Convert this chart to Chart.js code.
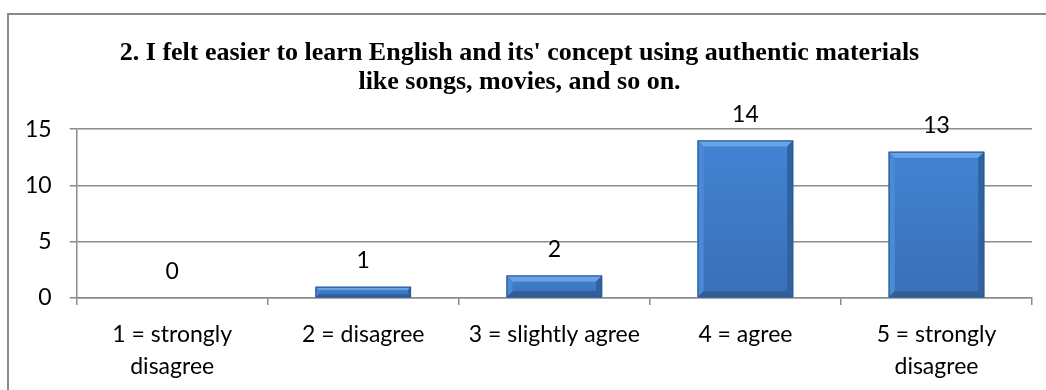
<!DOCTYPE html>
<html>
<head>
<meta charset="utf-8">
<script src="https://cdn.jsdelivr.net/npm/chart.js@4.4.1/dist/chart.umd.min.js"></script>
<style>
  html, body { margin: 0; padding: 0; background: #fff; }
  #wrap { position: relative; width: 1046px; height: 390px; overflow: hidden; }
  #frame { position: absolute; left: 7px; top: 13px; width: 1100px; height: 400px;
           border-top: 2px solid #8a8a8a; border-left: 2px solid #8a8a8a; }
  canvas { position: absolute; left: 0; top: 0; }
</style>
</head>
<body>
<div id="wrap">
  <div id="frame"></div>
  <canvas id="chart" width="1046" height="390"></canvas>
</div>
<script>
// ========= Data =========
const categories = [
  ["1 = strongly", "disagree"],
  "2 = disagree",
  "3 = slightly agree",
  "4 = agree",
  ["5 = strongly", "disagree"]
];
const responses = [0, 1, 2, 14, 13];
const yTicks = [0, 5, 10, 15];
const titleLines = [
  "2. I felt easier to learn English and its' concept using authentic materials",
  "like songs, movies, and so on."
];

const labelFont = "Lato, 'Open Sans', sans-serif";

// ========= Bevel look for bars =========
const bevelPlugin = {
  id: "bevel",
  afterDatasetsDraw(chart) {
    const ctx = chart.ctx;
    chart.getDatasetMeta(0).data.forEach(bar => {
      const { x, y, base, width } = bar.getProps(["x", "y", "base", "width"], true);
      const l = x - width / 2, r = x + width / 2, t = Math.min(y, base), b = Math.max(y, base);
      const h = b - t;
      if (h < 1) return;
      const bv = Math.min(6, h * 0.3);
      ctx.save();
      const g = ctx.createLinearGradient(0, t, 0, b);
      g.addColorStop(0, "#4283d3");
      g.addColorStop(1, "#3a70b6");
      ctx.fillStyle = g;
      ctx.fillRect(l, t, width, h);
      // top
      ctx.fillStyle = "#6aa3e6";
      ctx.beginPath(); ctx.moveTo(l, t); ctx.lineTo(r, t); ctx.lineTo(r - bv, t + bv); ctx.lineTo(l + bv, t + bv); ctx.closePath(); ctx.fill();
      // left
      ctx.fillStyle = "#4d8ad6";
      ctx.beginPath(); ctx.moveTo(l, t); ctx.lineTo(l + bv, t + bv); ctx.lineTo(l + bv, b - bv); ctx.lineTo(l, b); ctx.closePath(); ctx.fill();
      // right
      ctx.fillStyle = "#30629f";
      ctx.beginPath(); ctx.moveTo(r, t); ctx.lineTo(r - bv, t + bv); ctx.lineTo(r - bv, b - bv); ctx.lineTo(r, b); ctx.closePath(); ctx.fill();
      // bottom
      ctx.fillStyle = "#2f5e9a";
      ctx.beginPath(); ctx.moveTo(l, b); ctx.lineTo(r, b); ctx.lineTo(r - bv, b - bv); ctx.lineTo(l + bv, b - bv); ctx.closePath(); ctx.fill();
      ctx.strokeStyle = "#2d5a92";
      ctx.lineWidth = 1;
      ctx.strokeRect(l + 0.5, t + 0.5, width - 1, h - 1);
      ctx.restore();
    });
  }
};

// ========= Value labels =========
const valueLabels = {
  id: "valueLabels",
  afterDatasetsDraw(chart) {
    const ctx = chart.ctx;
    const ds = chart.data.datasets[0];
    ctx.save();
    ctx.font = "23px " + labelFont;
    ctx.fillStyle = "#000";
    ctx.textAlign = "center";
    ctx.textBaseline = "middle";
    chart.getDatasetMeta(0).data.forEach((bar, i) => {
      ctx.fillText(String(ds.data[i]), bar.x, bar.y - 26);
    });
    ctx.restore();
  }
};

new Chart(document.getElementById("chart"), {
  type: "bar",
  data: {
    labels: categories,
    datasets: [{
      data: responses,
      backgroundColor: "#3d79c4",
      borderWidth: 0,
      barPercentage: 0.5,
      categoryPercentage: 1
    }]
  },
  options: {
    responsive: false,
    animation: false,
    devicePixelRatio: 1,
    layout: { padding: { left: 7, right: 14, top: 0, bottom: -7 } },
    plugins: {
      legend: { display: false },
      tooltip: { enabled: false },
      title: {
        display: true,
        text: titleLines,
        color: "#000",
        font: { family: "'Liberation Serif', 'Times New Roman', serif", size: 26, weight: "bold", lineHeight: 1.12 },
        padding: { top: 39, bottom: 32 }
      }
    },
    scales: {
      y: {
        min: 0,
        max: 15,
        afterBuildTicks(axis) { axis.ticks = yTicks.map(v => ({ value: v })); },
        grid: { color: "#8c8c8c", lineWidth: 1.5, tickLength: 7, drawTicks: true },
        border: { color: "#8c8c8c", width: 1.5 },
        ticks: { color: "#000", padding: 18, font: { family: labelFont, size: 23 } }
      },
      x: {
        grid: { offset: true, drawOnChartArea: false, drawTicks: true, tickLength: 7, color: "#8c8c8c", lineWidth: 1.5 },
        border: { color: "#8c8c8c", width: 1.5 },
        ticks: { color: "#000", padding: 14, maxRotation: 0, autoSkip: false, font: { family: labelFont, size: 23, lineHeight: 1.39 } }
      }
    }
  },
  plugins: [bevelPlugin, valueLabels]
});
</script>
</body>
</html>
